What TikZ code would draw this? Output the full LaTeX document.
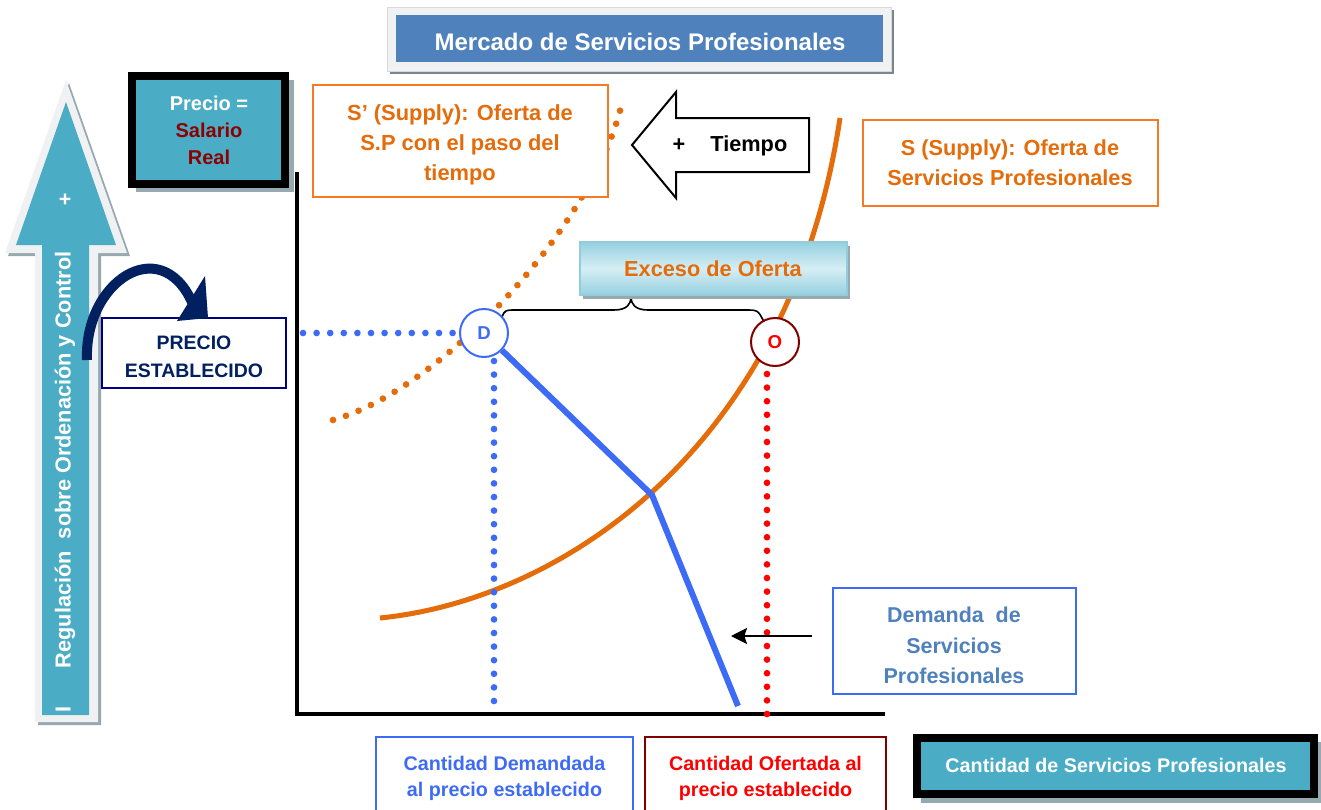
\documentclass[tikz,border=0pt]{standalone}
\usepackage{fontspec}
\setmainfont{Liberation Sans}
\usetikzlibrary{arrows.meta,fit}
\definecolor{teal1}{RGB}{75,172,198}
\definecolor{tblue}{RGB}{79,129,189}
\definecolor{orng}{RGB}{228,108,10}
\definecolor{orngb}{RGB}{245,122,35}
\definecolor{dblue}{RGB}{61,107,245}
\definecolor{navy}{RGB}{0,32,96}
\definecolor{navyb}{RGB}{0,0,128}
\definecolor{dred}{RGB}{128,0,0}
\definecolor{salred}{RGB}{140,0,0}
\definecolor{sgray}{RGB}{150,168,176}
\definecolor{lgray}{RGB}{240,241,242}
\definecolor{excb}{RGB}{147,205,221}
\definecolor{exctop}{RGB}{150,208,224}
\definecolor{excmid}{RGB}{214,238,244}
\newcommand{\fsz}[2]{\fontsize{#1pt}{#2pt}\selectfont\bfseries}
\newcommand{\ml}[1]{\begin{tabular}{@{}c@{}}#1\end{tabular}}
\tikzset{
  fbox/.style={inner sep=0pt},
  txt/.style={inner sep=0pt},
  dotline/.style={line width=5pt, line cap=round, dash pattern=on 0pt off 10.2pt},
  circ/.style={circle, draw, fill=white, line width=1.5pt, minimum size=36pt, inner sep=0pt, font={\fsz{14}{16}}},
}
\begin{document}
\begin{tikzpicture}[x=0.75pt,y=-0.75pt]
\useasboundingbox (0,0) rectangle (1321,810);
\clip (0,0) rectangle (1321,810);

% ---- title
\fill[sgray!80!black] (390,10) rectangle (894,74);
\draw[fill=lgray, draw=gray!30] (387,7) rectangle (891,71);
\node[fbox, fill=tblue, fit={(396,15)(883,62)}] (title) {};
\node[txt, text=white, font={\fsz{18}{22}}] (titlet) at (640,45) {\ml{Mercado de Servicios Profesionales}};

% ---- big up arrow
\fill[sgray, shift={(3,3)}] (66,80) -- (127,253) -- (98,253) -- (98,722) -- (35,722) -- (35,253) -- (5,253) -- cycle;
\fill[lgray] (66,80) -- (127,253) -- (98,253) -- (98,722) -- (35,722) -- (35,253) -- (5,253) -- cycle;
\fill[teal1] (66,102) -- (116,245) -- (89,245) -- (89,715) -- (42,715) -- (42,245) -- (16,245) -- cycle;
\node[text=white, font={\fsz{16}{18}}] (plus) at (65,200) {+};
\node[rotate=90, text=white, font={\fsz{16.3}{18}}] (reg) at (65,482) {I\hspace{1.75em}Regulación\ \ sobre Ordenación y Control};

% ---- Precio = Salario Real
\fill[sgray] (136,80) rectangle (294,192);
\node[fbox, draw=black, line width=6pt, fill=teal1, fit={(132,76)(285,184)}] (precio) {};
\node[txt, font={\fsz{15}{20}}] (preciot) at (209,132) {\ml{\textcolor{white}{Precio =}\\\textcolor{salred}{Salario}\\\textcolor{salred}{Real}}};

% ---- PRECIO ESTABLECIDO + curved arrow
\node[fbox, draw=navyb, line width=1.5pt, fill=white, fit={(102,318)(286,388)}] (pe) {};
\node[txt, text=navy, font={\fsz{14.6}{21}}] (pet) at (194,358) {\ml{PRECIO\\ESTABLECIDO}};
\coordinate (ca0) at (87,360);
\coordinate (ca1) at (192,302);
\draw[navy, line width=7.5pt] (ca0) .. controls (84,282) and (160,232) .. (ca1);
\fill[navy] (205,276) -- (177,321) -- (208,318) -- cycle;

% ---- axes
\coordinate (ytop) at (297,172);
\coordinate (orig) at (297,714);
\coordinate (xend) at (885,714);
\draw[line width=3pt] (ytop) -- (orig) -- (xend);

% ---- S' dotted curve and box
\draw[orng, dotline] (333,420) .. controls (440,390) and (590,230) .. (621,107);
\node[fbox, draw=orngb, line width=1.5pt, fill=white, fit={(313,85)(608,197)}] (sp) {};
\node[txt, text=orng, font={\fsz{16.4}{22.5}}] (spt) at (460,144) {\ml{S’ (Supply): Oferta de\\S.P con el paso del\\tiempo}};

% ---- S curve
\draw[orng, line width=3.75pt] (380,618) .. controls (560,600) and (790,450) .. (840,118);

% ---- dotted guide lines
\coordinate (h0) at (303,333);
\coordinate (h1) at (455,333);
\coordinate (v0) at (494,361);
\coordinate (v1) at (494,714);
\coordinate (r0) at (767,374);
\coordinate (r1) at (767,714);
\draw[dblue, dotline] (h0) -- (h1);
\draw[dblue, dotline] (v0) -- (v1);
\draw[red, dotline] (r0) -- (r1);

% ---- brace
\draw[line width=1.2pt] (502,317) .. controls (505,310) .. (516,310) -- (614,310) .. controls (627,310) and (631,304) .. (631,297) .. controls (631,304) and (635,310) .. (648,310) -- (745,310) .. controls (758,310) .. (764,322);

% ---- circles and demand line
\node[circ, draw=dblue, text=dblue] (D) at (484,333) {D};
\node[circ, draw=dred, text=red] (O) at (775,342) {O};
\coordinate (k) at (652,495);
\coordinate (dend) at (738,706);
\draw[dblue, line width=4.5pt] (D) -- (k) -- (dend);

% ---- Exceso de Oferta
\fill[sgray] (583,246) rectangle (850,299);
\node[fbox, draw=excb, line width=0.8pt, top color=exctop, bottom color=exctop, middle color=excmid, fit={(580,242)(847,295)}] (exc) {};
\node[txt, text=orng, font={\fsz{16.3}{20}}] (exct) at (713,271) {\ml{Exceso de Oferta}};

% ---- Tiempo arrow
\draw[line width=1.5pt, fill=white] (632,145) -- (676,92) -- (676,118) -- (809,118) -- (809,172) -- (676,172) -- (676,198) -- cycle;
\node[font={\fsz{16.3}{20}}] (tiempo) at (730,146) {+\hspace{1.15em}Tiempo};

% ---- S box
\node[fbox, draw=orngb, line width=1.5pt, fill=white, fit={(863,120)(1158,206)}] (s) {};
\node[txt, text=orng, font={\fsz{16.3}{22.5}}] (st) at (1010,164) {\ml{S (Supply): Oferta de\\Servicios Profesionales}};

% ---- Demanda box and arrow
\node[fbox, draw=dblue, line width=1.5pt, fill=white, fit={(833,588)(1076,694)}] (dem) {};
\node[txt, text=tblue, font={\fsz{16.1}{23}}] (demt) at (954,647) {\ml{Demanda\ \ de\\Servicios\\Profesionales}};
\coordinate (da0) at (812,636);
\coordinate (da1) at (731,636);
\draw[line width=1.5pt, -{Stealth[length=12pt,width=12pt,inset=2pt]}] (da0) -- (da1);

% ---- bottom boxes
\node[fbox, draw=dblue, line width=1.5pt, fit={(376,737)(633,817)}] (cd) {};
\node[txt, text=dblue, font={\fsz{14.8}{20}}] (cdt) at (504.5,778) {\ml{Cantidad Demandada\\al precio establecido}};
\node[fbox, draw=dred, line width=1.5pt, fit={(645,737)(886,817)}] (co) {};
\node[txt, text=red, font={\fsz{14.8}{20}}] (cot) at (765.5,778) {\ml{Cantidad Ofertada al\\precio establecido}};
\fill[sgray] (921,742) rectangle (1322,803);
\node[fbox, draw=black, line width=6pt, fill=teal1, fit={(917,738)(1314,794)}] (cq) {};
\node[txt, text=white, font={\fsz{14.8}{18}}] (cqt) at (1116,768) {\ml{Cantidad de Servicios Profesionales}};
\end{tikzpicture}
\end{document}
